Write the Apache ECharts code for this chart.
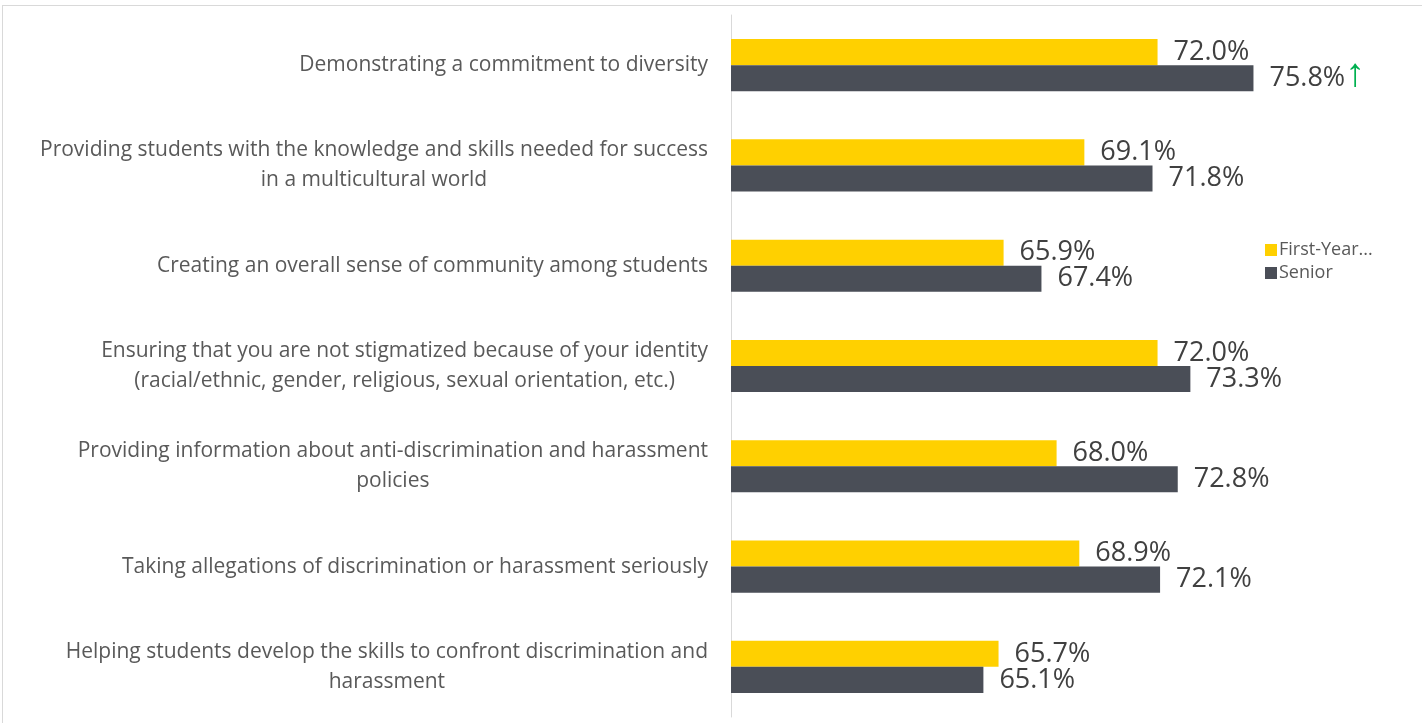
<!DOCTYPE html>
<html>
<head>
<meta charset="utf-8">
<script src="https://cdn.jsdelivr.net/npm/echarts@6/dist/echarts.min.js"></script>
<style>
  html, body { margin: 0; padding: 0; background: #ffffff; }
  #chart { width: 1422px; height: 723px; }
  #frame { position: absolute; left: 2px; top: 5px; width: 1430px; height: 730px;
           border: 1px solid #d9d9d9; box-sizing: border-box; pointer-events: none; }
</style>
</head>
<body>
<div id="chart"></div>
<div id="frame"></div>
<script>
// Survey items (top to bottom)
const categories = [
  'Demonstrating a commitment to diversity',
  'Providing students with the knowledge and skills needed for success\nin a multicultural world',
  'Creating an overall sense of community among students',
  'Ensuring that you are not stigmatized because of your identity\n(racial/ethnic, gender, religious, sexual orientation, etc.)',
  'Providing information about anti-discrimination and harassment\npolicies',
  'Taking allegations of discrimination or harassment seriously',
  'Helping students develop the skills to confront discrimination and\nharassment'
];

// Percent agreeing, by class year
const firstYear = [72.0, 69.1, 65.9, 72.0, 68.0, 68.9, 65.7];
const senior    = [75.8, 71.8, 67.4, 73.3, 72.8, 72.1, 65.1];

// Significant increase over first-year students
const seniorUp = [true, false, false, false, false, false, false];

const seriesNames = ['First-Year Students', 'Senior'];

const chart = echarts.init(document.getElementById('chart'));

const valueLabel = {
  show: true,
  position: 'right',
  distance: 16,
  fontFamily: 'Open Sans',
  fontSize: 27,
  color: '#404040'
};

chart.setOption({
  animation: false,
  grid: { left: 731, right: 60, top: 15, bottom: 6, containLabel: false },
  legend: {
    orient: 'vertical',
    left: 1260,
    top: 236,
    itemWidth: 12,
    itemHeight: 12,
    itemGap: 5,
    icon: 'rect',
    textStyle: { fontFamily: 'Open Sans', fontSize: 18, lineHeight: 16, color: '#595959', padding: [0, 0, 0, -3] },
    formatter: name => name.length > 12 ? name.slice(0, 10) + '...' : name,
    data: seriesNames
  },
  xAxis: {
    type: 'value',
    min: 55.1,
    max: 80.1,
    show: true,
    axisLine: { show: false },
    axisTick: { show: false },
    axisLabel: { show: false },
    splitLine: { show: false }
  },
  yAxis: {
    type: 'category',
    inverse: true,
    data: categories,
    axisLine: { show: true, lineStyle: { color: '#d9d9d9', width: 1 } },
    axisTick: { show: false },
    axisLabel: {
      margin: 23,
      fontFamily: 'Open Sans',
      fontSize: 21,
      color: '#595959',
      lineHeight: 30,
      formatter: v => v.split('\n').map(s => '{c|' + s + '}').join('\n'),
      rich: {
        c: { align: 'center', fontFamily: 'Open Sans', fontSize: 21, color: '#595959', lineHeight: 30 }
      }
    }
  },
  series: [
    {
      name: seriesNames[0],
      type: 'bar',
      data: firstYear,
      barGap: '0%',
      barCategoryGap: '48%',
      itemStyle: { color: '#FFD000' },
      label: Object.assign({}, valueLabel, {
        formatter: p => p.value.toFixed(1) + '%'
      })
    },
    {
      name: seriesNames[1],
      type: 'bar',
      data: senior,
      barGap: '0%',
      barCategoryGap: '48%',
      itemStyle: { color: '#4A4E57' },
      label: Object.assign({}, valueLabel, {
        formatter: p => p.value.toFixed(1) + '%' + (seniorUp[p.dataIndex] ? '{up|↑}' : ''),
        rich: {
          up: { color: '#00B050', fontFamily: 'Liberation Sans', fontSize: 40, lineHeight: 30, padding: [0, 0, 6, 0] }
        }
      })
    }
  ]
});
</script>
</body>
</html>
